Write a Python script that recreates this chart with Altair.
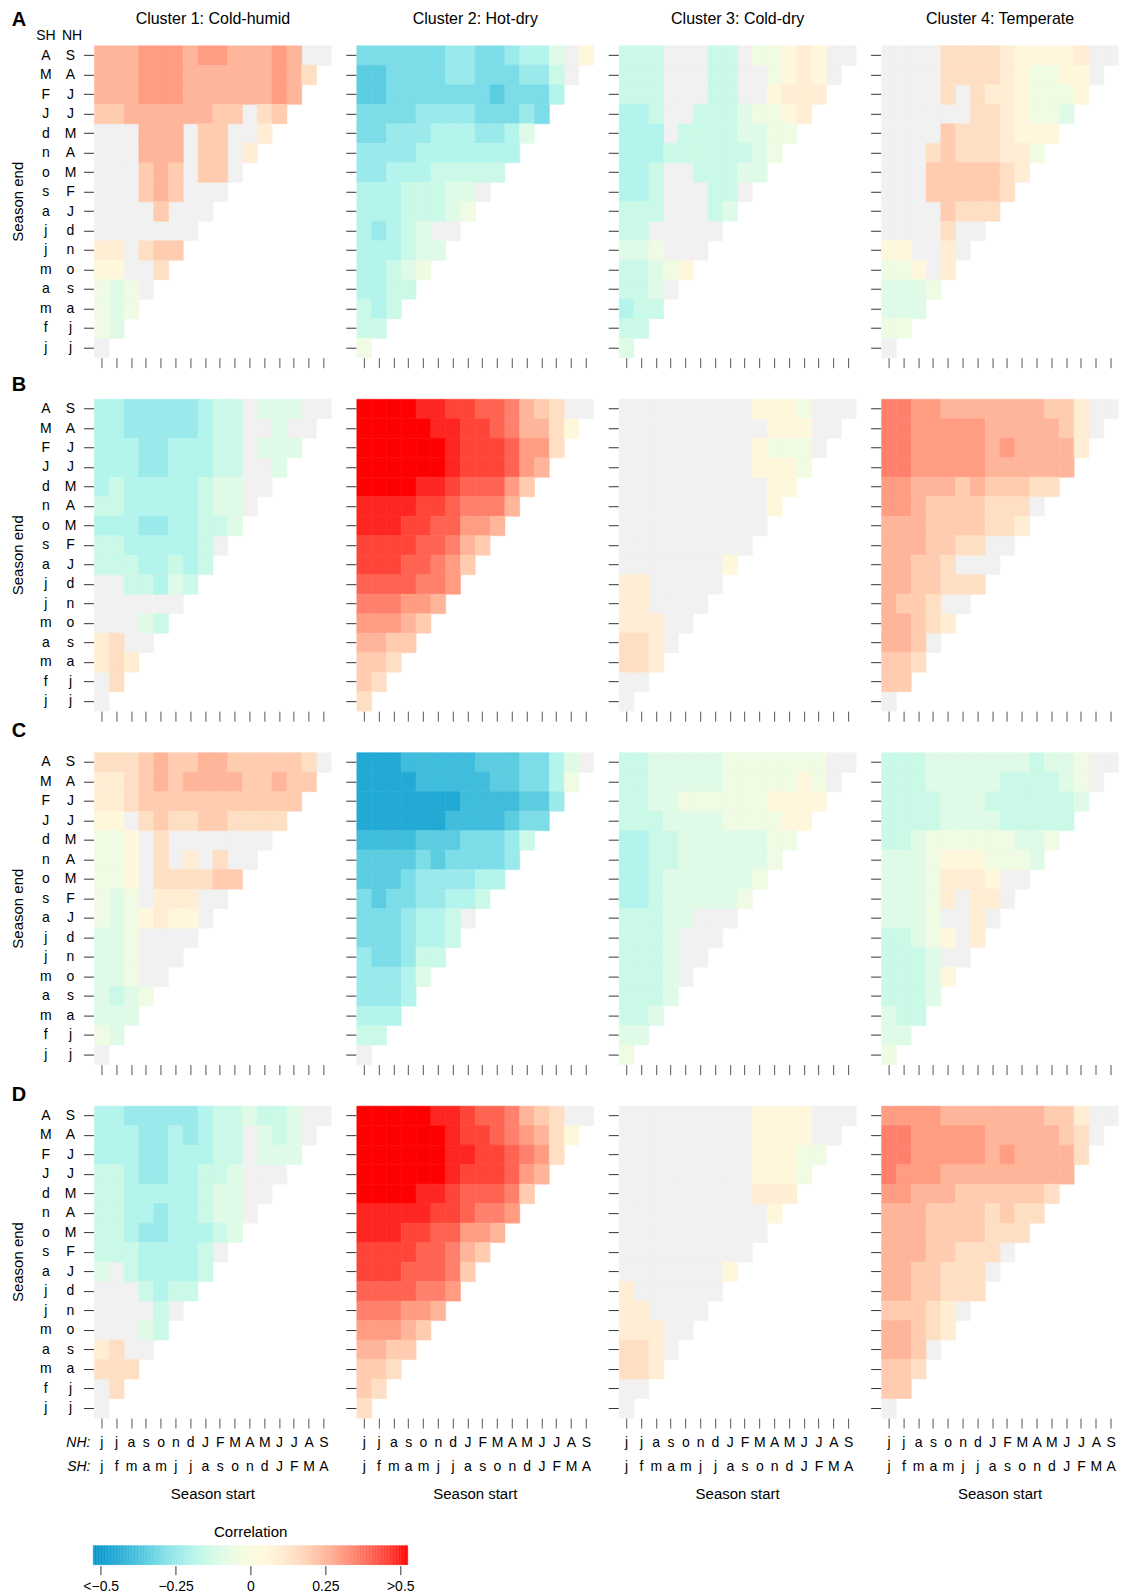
import numpy as np
import pandas as pd
import altair as alt

FONT = "Liberation Sans"
GRAY = "#f1f1f1"

# ---------------- data: one code per cell, rows top (season end S/A) -> bottom (j/j)
# '.' = not significant (grey); a..i negative, 1..9,Y,X positive
CODE_VALUES = {
    "i": -0.45, "h": -0.40, "g": -0.35, "f": -0.30, "e": -0.25, "d": -0.20,
    "c": -0.15, "b": -0.10, "a": -0.05,
    "1": 0.05, "2": 0.10, "3": 0.15, "4": 0.20, "5": 0.25, "6": 0.30,
    "7": 0.35, "8": 0.40, "9": 0.45, "Y": 0.49, "X": 0.525,
}

A1 = ["55566656655565..", "555666555555653", "55566655555565", "4455555544.34",
      "...555.44..2", "...555.44.2", "...454.44.", "...454...", "....4...", ".......",
      "22.344", "11..3", "aba.", "aba", "ab", "."]
A2 = ["ffffffeeffeddb.1", "ggffffeefffeec.", "ggfffffffgfffd", "ffffeeeefffef",
      "ffeeedddeedb", "eeeeddddddd", "eedddccccc", "dddcccbb.", "dddcccba", "dedcb..",
      "dddcbb", "ddcba", "ddcc", "cdc", "cc", "a"]
A3 = ["ccc...cc.aa121..", "ccc...cc..a121.", "ccc...cc..1222", "ddc..cccbaa12",
      "ddd.ccccbbaa", "dddccccccba", "ddc..cccbb", "ddc...cc.", "ccc...cb", "cc.....",
      "bba...", "ccba1", "ccb.", "dcc", "cc", "b"]
A4 = ["....3333211112..", "....333321aa11.", "....3.3221aaa1", "......3321aab",
      "....43332111", "...3433322a", "...4444432", "...444443", "....4333", "....3..",
      "11..2.", "aa1.2", "bbba", "bbb", "aa", "."]

B1 = ["ddeeeeedcc.bbb..", "ddeeeeedcc..b..", "dddeedddcc.bbb", "dddeedddcc..b",
      "dcdddddcbb..", "ccdddddcbb.", "dddeeddccb", "ccdddddc.", "cccddcdc", "..ccdbc",
      "......", "...bc", "23..", "232", ".3", "."]
B2 = ["XXXXYY99887543..", "XXXXXYY99875531", "XXXXXXY9998663", "XXXXXXY999865",
      "XXXXYY988864", "YYYY9987775", "YYY9988665", "999988754", "99988764", "8888776",
      "777665", "66654", "5544", "443", "43", "3"]
B3 = [".........111a...", "..........111..", ".........1aaa.", ".........111a",
      "..........11", "..........1", "..........", ".........", ".......1", "22.....",
      "22....", "222..", "332.", "332", "..", "."]
B4 = ["77665555555442..", "77666665555542.", "77666665655552", "7766666555555",
      "665554544433", "6654444333.", "5554444332", "5554433..", "55443...", "5544333",
      "5443..", "55432", "554.", "443", "44", "."]

C1 = ["333454455444443.", "223454555544544", "22344444444444", "11.3433443333",
      "aa1.3.......", "aa1.3.2.3..", "aa1.333344", "aba.222..", "aba1211.", "bba....",
      "bba...", "bba..", "bcba", "bbb", "ab", "."]
C2 = ["iiihhhhhgggffdb.", "iiiihhhhhggffda", "iiiiiiihhhhgge", "iiiiiihhhhgff",
      "hhhhgggfffec", "ggggfgffffe", "gggfeeeedd", "fgffeeddc", "fffeddc.", "fffeddc",
      "effecc", "eeedb", "eeed", "ddd", "cc", "."]
C3 = ["ccbbbbbaaaaaaa..", "ccbbbbbaaaaa1a.", "ccbbaaaaaa1111", "cccbbbbaaaa11",
      "ddccbbbbbbaa", "ddccbbbbbba", "ddcbbbbbba", "ddcbbbbba", "cccbb...", "cccb...",
      "cccb..", "cccb.", "cccb", "ccb", "bb", "a"]
C4 = ["cccbbbbbbbcbba..", "cccbbbbbccccba.", "ccccbbbccccccb", "ccccbbbbccccc",
      "ccbaaaaaabba", "bbba111aaab", "bbba2221..", "bbba2.22.", "bbba..2.", "ccba1.2",
      "cccb..", "cccb1", "cccb", "bcc", "bb", "a"]

D1 = ["ddeeeeedccbccb..", "dddeededcc.bcb.", "dddeedddcc.bbb", "ccdeeddccb...",
      "ccdddddcbb..", "ccddeddcbb.", "ccdeedddcb", "cccddddc.", "b.cddddc", "...cdcc",
      "....c.", "...bc", "23..", "333", ".3", "."]
D2 = ["XXXXXYY9887543..", "XXXXXXY99876531", "XXXXXXYY998763", "XXXXXXY999865",
      "XXXXYY988874", "YYYYY998776", "YYY9988665", "999988754", "99988874", "8888776",
      "777665", "66654", "5544", "443", "43", "3"]
D3 = [".........1111...", ".........1111..", ".........111aa", ".........111a",
      ".........222", "..........1", "..........", ".........", ".......1", "2......",
      "22....", "222..", "332.", "332", "..", "."]
D4 = ["66665555555442..", "77666665555543.", "77666665655553", "7666555555555",
      "665554444443", "55544443433", "5554444333", "55544333.", "5544333.", "5544333",
      "44432.", "55432", "554.", "443", "44", "."]

GRID = [[A1, A2, A3, A4], [B1, B2, B3, B4], [C1, C2, C3, C4], [D1, D2, D3, D4]]

NH_END = ["S", "A", "J", "J", "M", "A", "M", "F", "J", "d", "n", "o", "s", "a", "j", "j"]
SH_END = ["A", "M", "F", "J", "d", "n", "o", "s", "a", "j", "j", "m", "a", "m", "f", "j"]
NH_START = ["j", "j", "a", "s", "o", "n", "d", "J", "F", "M", "A", "M", "J", "J", "A", "S"]
SH_START = ["j", "f", "m", "a", "m", "j", "j", "a", "s", "o", "n", "d", "J", "F", "M", "A"]
CLUSTERS = ["Cluster 1: Cold-humid", "Cluster 2: Hot-dry", "Cluster 3: Cold-dry", "Cluster 4: Temperate"]
LETTERS = ["A", "B", "C", "D"]

COLOR_DOMAIN = [-0.525, -0.45, -0.40, -0.35, -0.30, -0.25, -0.20, -0.15, -0.10, -0.05, 0.0,
                0.05, 0.10, 0.15, 0.20, 0.25, 0.30, 0.35, 0.40, 0.45, 0.49, 0.525]
COLOR_RANGE = ["#0996cc", "#22aad5", "#40bcdc", "#5ccde0", "#7cdde8", "#9ae9eb", "#b3f4ec",
               "#cbf9e8", "#dffbe8", "#effbe3", "#fafbe0",
               "#fff7dc", "#ffedd4", "#ffdfc3", "#ffccb0", "#ffb59a", "#ff9c82", "#ff806c",
               "#ff6352", "#ff4438", "#ff2520", "#ff0000"]
LEG_TICKS = [-0.5, -0.25, 0, 0.25, 0.5]

# ---------------- layout (page pixel targets)
PLOT_X0 = 94.5          # page x of first panel
TOP = 45.5              # page y of first panel row
W, H = 237, 312
COL_GAP = 25.5
ROW_GAP = 41.6
LETTER_DY = [-25.8, -14.5, -22.0, -11.0]
LEG_Y0 = TOP + 4 * (H + ROW_GAP)
BAR_Y0 = 1546 - LEG_Y0
BAR_Y1 = 1565 - LEG_Y0
MARK_X, MARK_Y = -90, -50          # invisible anchor fixing the top-left of the drawing
SVG_W = 1111                       # page width minus margins

PAD_L = PLOT_X0 - 8 + MARK_X
PAD_T = TOP - 8 + MARK_Y
CONTENT_W = (W + COL_GAP) * 3 + W - MARK_X
PAD_R = max(0.0, SVG_W - PAD_L - CONTENT_W)

CSCALE = alt.Scale(domain=COLOR_DOMAIN, range=COLOR_RANGE, interpolate="rgb", clamp=True)
xscale = alt.Scale(domain=list(range(16)), paddingInner=0, paddingOuter=0)
yscale = alt.Scale(domain=list(range(16)), paddingInner=0, paddingOuter=0)
xaxis = alt.Axis(labels=False, title=None, domain=False, ticks=True, tickSize=10,
                 tickColor="#555555", tickWidth=1, grid=False)
yaxis = alt.Axis(labels=False, title=None, domain=False, ticks=True, tickSize=10,
                 tickColor="#333333", tickWidth=1, offset=1, grid=False)
X = alt.X("col:O", scale=xscale, axis=xaxis)
Y = alt.Y("row:O", scale=yscale, axis=yaxis)


def txt(text, x, y, size=14, **kw):
    return alt.Chart(pd.DataFrame({"t": [text]})).mark_text(
        fontSize=size, font=FONT, color="black", **kw
    ).encode(x=alt.value(x), y=alt.value(y), text="t:N")


def build_panel(ri, ci, rows):
    recs = []
    for r, s in enumerate(rows):
        n = 16 - r
        s = (s + "." * n)[:n]
        for c, ch in enumerate(s):
            v = CODE_VALUES.get(ch)
            recs.append({"col": c, "row": r, "value": v, "sig": v is not None})
    df = pd.DataFrame(recs)
    base = alt.Chart(df)
    layers = [
        base.transform_filter("!datum.sig").mark_rect(color=GRAY, stroke=GRAY, strokeWidth=0.6)
        .encode(x=X, y=Y),
        base.transform_filter("datum.sig").mark_rect(strokeWidth=0.6).encode(
            x=X, y=Y,
            color=alt.Color("value:Q", scale=CSCALE, legend=None),
            stroke=alt.Stroke("value:Q", scale=CSCALE, legend=None),
        ),
    ]
    if ri == 0:
        layers.append(txt(CLUSTERS[ci], W / 2, -27.2, size=16))
    if ci == 0:
        lab = pd.DataFrame({"row": list(range(16)), "nh": NH_END, "sh": SH_END})
        layers.append(alt.Chart(lab).mark_text(fontSize=14, font=FONT, color="black")
                      .encode(y=Y, x=alt.value(-24), text="nh:N"))
        layers.append(alt.Chart(lab).mark_text(fontSize=14, font=FONT, color="black")
                      .encode(y=Y, x=alt.value(-48.7), text="sh:N"))
        layers.append(txt(LETTERS[ri], -82.8, LETTER_DY[ri], size=20, fontWeight="bold", align="left"))
        layers.append(txt("Season end", -76, H / 2, size=15, angle=270))
        if ri == 0:
            layers.append(txt("SH", -48.5, -10, size=14))
            layers.append(txt("NH", -22.5, -10, size=14))
            layers.append(
                alt.Chart(pd.DataFrame({"t": [0]})).mark_rect(color="white", opacity=0)
                .encode(x=alt.value(MARK_X), x2=alt.value(MARK_X + 1),
                        y=alt.value(MARK_Y), y2=alt.value(MARK_Y + 1))
            )
    if ri == 3:
        labx = pd.DataFrame({"col": list(range(16)), "nh": NH_START, "sh": SH_START})
        layers.append(alt.Chart(labx).mark_text(fontSize=14, font=FONT, color="black")
                      .encode(x=X, y=alt.value(H + 24.5), text="nh:N"))
        layers.append(alt.Chart(labx).mark_text(fontSize=14, font=FONT, color="black")
                      .encode(x=X, y=alt.value(H + 48.7), text="sh:N"))
        layers.append(txt("Season start", W / 2, H + 76.5, size=15))
        if ci == 0:
            layers.append(txt("NH:", -4, H + 24.5, size=14, fontStyle="italic", align="right"))
            layers.append(txt("SH:", -4, H + 48.7, size=14, fontStyle="italic", align="right"))
    return alt.layer(*layers).properties(width=W, height=H)


panels = [build_panel(ri, ci, GRID[ri][ci]) for ri in range(4) for ci in range(4)]

# ---------------- colour bar
grad_lo = np.round(np.arange(-0.525, 0.525, 0.005), 4)
leg_df = pd.DataFrame({"v": grad_lo, "v2": np.round(grad_lo + 0.005, 4)})
label_expr = ("datum.value <= -0.5 ? '<\u22120.5' : datum.value >= 0.5 ? '>0.5' : "
              "datum.value == 0 ? '0' : datum.value < 0 ? '\u22120.25' : '0.25'")
lx = alt.X("v:Q", scale=alt.Scale(domain=[-0.525, 0.525], range=[-1.2, 313.4], nice=False, zero=False),
           axis=alt.Axis(values=LEG_TICKS, labelExpr=label_expr, tickSize=9, domain=False, grid=False,
                         title=None, offset=1, labelFontSize=14, labelPadding=5, tickColor="#333333",
                         labelColor="black", labelFont=FONT, tickWidth=1))
bar = alt.Chart(leg_df).mark_rect(strokeWidth=0.5).encode(
    x=lx, x2="v2:Q", y=alt.value(BAR_Y0), y2=alt.value(BAR_Y1),
    color=alt.Color("v:Q", scale=CSCALE, legend=None),
    stroke=alt.Stroke("v:Q", scale=CSCALE, legend=None),
)
legend = alt.layer(bar, txt("Correlation", 156.3, 1532.5 - LEG_Y0, size=15)).properties(width=W, height=BAR_Y1)

chart = alt.concat(*panels, legend, columns=4, spacing={"row": ROW_GAP, "column": COL_GAP},
                   bounds="flush").properties(
    padding={"left": PAD_L, "top": PAD_T, "right": PAD_R, "bottom": 0}
).configure(font=FONT).configure_view(stroke=None)

chart.save("out.html", embed_options={"renderer": "svg", "actions": False})
